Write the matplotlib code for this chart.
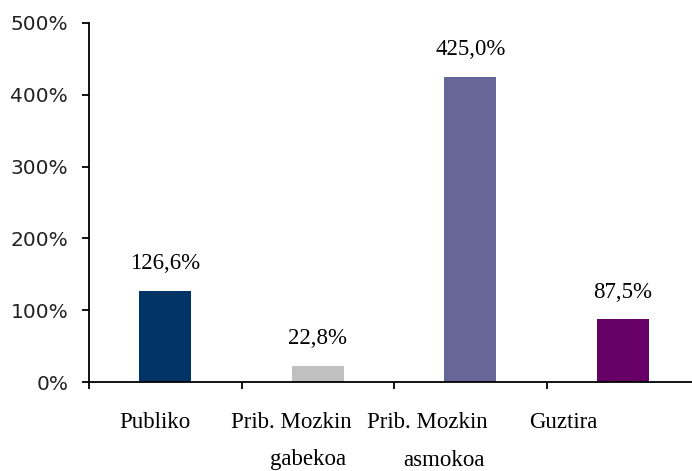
import matplotlib.pyplot as plt
import numpy as np

categories = ['Publiko', 'Prib. Mozkin gabekoa', 'Prib. Mozkin asmokoa', 'Guztira']
label_line1 = ['Publiko', 'Prib. Mozkin', 'Prib. Mozkin', 'Guztira']
label_line2 = ['', 'gabekoa', 'asmokoa', '']
values = [126.6, 22.8, 425.0, 87.5]
value_labels = ['126,6%', '22,8%', '425,0%', '87,5%']
colors = ['#003366', '#c0c0c0', '#666699', '#660066']
yticks = [0, 100, 200, 300, 400, 500]

fig = plt.figure(figsize=(6.92, 4.71), dpi=100)
ax = fig.add_axes([89/692, 89/471, 610/692, 359/471])

x = np.arange(len(categories))
ax.bar(x, values, width=0.34, color=colors)

for i, v in enumerate(values):
    ax.annotate(value_labels[i], (x[i], v), xytext=(0, 12), textcoords='offset points',
                ha='center', va='bottom', fontsize=16.5, family='Liberation Serif')

ax.set_xlim(-0.5, len(categories) - 0.5)
ax.set_ylim(0, 500)
ax.set_yticks(yticks)
ax.set_yticklabels([f'{t}%' for t in yticks], fontsize=14.5, color='#222222')
ax.set_xticks(x)
ax.set_xticklabels([])
ax.set_xticks(np.arange(len(categories) + 1) - 0.5, minor=True)
ax.tick_params(axis='x', which='major', length=0)
ax.tick_params(axis='x', which='minor', length=5, width=1.3, direction='out')
ax.tick_params(axis='y', length=5, width=1.3, direction='out', pad=10)

for s in ['top', 'right']:
    ax.spines[s].set_visible(False)
for s in ['left', 'bottom']:
    ax.spines[s].set_linewidth(1.3)

# labels sit a bit left of the bars, like in the original
for i in range(len(categories)):
    xl = -0.066 + 0.893 * i
    ax.text(xl, -41/359, label_line1[i], transform=ax.get_xaxis_transform(),
            ha='center', va='center', fontsize=16.5, family='Liberation Serif')
    if label_line2[i]:
        ax.text(xl + 0.11, -78/359, label_line2[i], transform=ax.get_xaxis_transform(),
                ha='center', va='center', fontsize=16.5, family='Liberation Serif')

fig.savefig('out.png', dpi=100)
